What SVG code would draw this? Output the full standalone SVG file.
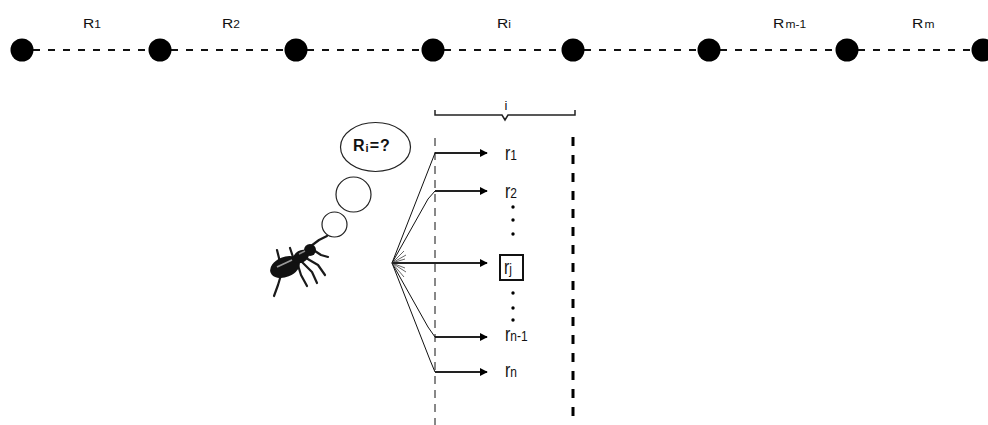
<svg xmlns="http://www.w3.org/2000/svg" width="988" height="425" viewBox="0 0 988 425">
  <style>
    .dot { fill: #000; }
    .track { stroke: #111; stroke-width: 2; stroke-dasharray: 7 8; fill: none; }
    .lbl { font-family: "Liberation Sans", Arial, sans-serif; fill: #111; }
    .big { font-size: 13px; }
    .sub { font-size: 10px; }
    .rl { font-size: 16px; }
    .rsub { font-size: 12px; }
    .fan { stroke: #111; stroke-width: 1; fill: none; }
    .whisk { stroke: #666; stroke-width: 1; fill: none; }
    .arr { stroke: #222; stroke-width: 2; fill: none; marker-end: url(#head); }
    .vthin { stroke: #111; stroke-width: 1; stroke-dasharray: 8 6; }
    .vthick { stroke: #000; stroke-width: 3; stroke-dasharray: 9 9; }
    .leg { stroke: #1a1a1a; stroke-width: 2.2; fill: none; stroke-linecap: round; stroke-linejoin: round; }
  </style>
  <defs>
    <marker id="head" viewBox="0 0 10 10" refX="9" refY="5" markerWidth="4" markerHeight="4" orient="auto" markerUnits="strokeWidth">
      <path d="M0,0 L10,5 L0,10 z" fill="#000"/>
    </marker>
  </defs>
  <rect width="988" height="425" fill="#fff"/>

  <!-- connectors: dashed track between the boundary points -->
  <g id="connectors">
    <line class="track" x1="33" y1="50" x2="149" y2="50"/>
    <line class="track" x1="171" y1="50" x2="285" y2="50"/>
    <line class="track" x1="307" y1="50" x2="422" y2="50"/>
    <line class="track" x1="444" y1="50" x2="562" y2="50"/>
    <line class="track" x1="584" y1="50" x2="698" y2="50"/>
    <line class="track" x1="720" y1="50" x2="836" y2="50"/>
    <line class="track" x1="858" y1="50" x2="972" y2="50"/>

    <!-- fan of candidate choices from the ant -->
    <polyline class="fan" points="392,263 435,153"/>
    <polyline class="fan" points="392,263 428,199 435,191"/>
    <polyline class="fan" points="392,263 428,327 435,337"/>
    <polyline class="fan" points="392,263 430,360 435,372"/>
    <line class="whisk" x1="392" y1="263" x2="404" y2="251"/>
    <line class="whisk" x1="392" y1="263" x2="406" y2="255"/>
    <line class="whisk" x1="392" y1="263" x2="405" y2="259"/>
    <line class="whisk" x1="392" y1="263" x2="405" y2="268"/>
    <line class="whisk" x1="392" y1="263" x2="406" y2="272"/>
    <line class="whisk" x1="392" y1="263" x2="404" y2="277"/>

    <line class="arr" x1="435" y1="153" x2="487" y2="153"/>
    <line class="arr" x1="435" y1="191" x2="487" y2="191"/>
    <line class="arr" x1="392" y1="263" x2="487" y2="263"/>
    <line class="arr" x1="435" y1="337" x2="487" y2="337"/>
    <line class="arr" x1="435" y1="372" x2="487" y2="372"/>
  </g>

  <!-- boundary points -->
  <g id="p0"><circle class="dot" cx="22" cy="50" r="11.5"/></g>
  <g id="p1"><circle class="dot" cx="160" cy="50" r="11.5"/></g>
  <g id="p2"><circle class="dot" cx="296" cy="50" r="11.5"/></g>
  <g id="p3"><circle class="dot" cx="433" cy="50" r="11.5"/></g>
  <g id="p4"><circle class="dot" cx="573" cy="50" r="11.5"/></g>
  <g id="p5"><circle class="dot" cx="709" cy="50" r="11.5"/></g>
  <g id="p6"><circle class="dot" cx="847" cy="50" r="11.5"/></g>
  <g id="p7"><circle class="dot" cx="983" cy="50" r="11.5"/></g>

  <!-- interval labels (slightly widened glyphs) -->
  <g id="labels" class="lbl">
    <text transform="translate(83 28) scale(1.2 1)" class="big">R<tspan class="sub">1</tspan></text>
    <text transform="translate(222 28) scale(1.2 1)" class="big">R<tspan class="sub">2</tspan></text>
    <text transform="translate(497 28) scale(1.2 1)" class="big">R<tspan class="sub">i</tspan></text>
    <text transform="translate(773 28) scale(1.2 1)" class="big">R<tspan class="sub" dx="1">m-1</tspan></text>
    <text transform="translate(912 28) scale(1.2 1)" class="big">R<tspan class="sub" dx="1">m</tspan></text>
  </g>

  <!-- brace over interval i -->
  <g id="brace">
    <path d="M435,110 V115 H502 L505,120 L508,115 H575 V110" fill="none" stroke="#222" stroke-width="1.5"/>
    <text x="506" y="110" class="lbl" font-size="13" text-anchor="middle">i</text>
  </g>

  <!-- interval boundaries (dashed verticals) -->
  <g id="bounds">
    <line class="vthin" x1="435" y1="138" x2="435" y2="425"/>
    <line class="vthick" x1="573" y1="137" x2="573" y2="425"/>
  </g>

  <!-- thought bubble -->
  <g id="thought">
    <ellipse cx="375.5" cy="147" rx="35" ry="24.5" fill="#fff" stroke="#222" stroke-width="1.2"/>
    <text x="353" y="151" class="lbl" font-size="16" font-weight="bold" letter-spacing="1">R<tspan font-size="11" dy="1">i</tspan><tspan dy="-1">=?</tspan></text>
    <circle cx="353.5" cy="194.5" r="17.5" fill="#fff" stroke="#222" stroke-width="1.2"/>
    <circle cx="334.5" cy="224.5" r="12.5" fill="#fff" stroke="#222" stroke-width="1.2"/>
  </g>

  <!-- the ant -->
  <g id="ant">
    <path class="leg" d="M311,246 L319,240 L327,236"/>
    <path class="leg" d="M315,251 L321,255 L328,257"/>
    <path class="leg" d="M297,262 L301,275 L307,286"/>
    <path class="leg" d="M302,262 L312,272 L317,283"/>
    <path class="leg" d="M306,258 L318,265 L325,275"/>
    <path class="leg" d="M281,275 L278,285 L274,296"/>
    <path class="leg" d="M280,262 L277,250"/>
    <path class="leg" d="M293,257 L290,248"/>
    <ellipse cx="285" cy="267" rx="15.5" ry="10" transform="rotate(-22 285 267)" fill="#111"/>
    <ellipse cx="301" cy="256.5" rx="8.5" ry="6" transform="rotate(-30 301 256.5)" fill="#111"/>
    <ellipse cx="310" cy="250" rx="6" ry="6" fill="#111"/>
    <path d="M277,267 L292,260" stroke="#999" stroke-width="1.8"/>
    <path d="M299,254 L305,251" stroke="#888" stroke-width="1.4"/>
  </g>

  <!-- candidate values (vertically stretched glyphs) -->
  <g id="c1" class="lbl"><text transform="translate(505 160) scale(1 1.25)" class="rl">r<tspan class="rsub">1</tspan></text></g>
  <g id="c2" class="lbl"><text transform="translate(505 198) scale(1 1.25)" class="rl">r<tspan class="rsub">2</tspan></text></g>
  <g id="dots-upper">
    <circle cx="513" cy="207" r="1.7" fill="#000"/>
    <circle cx="513" cy="220" r="1.7" fill="#000"/>
    <circle cx="513" cy="234" r="1.7" fill="#000"/>
  </g>
  <g id="cj">
    <rect x="500" y="255" width="23" height="25" fill="#fff" stroke="#111" stroke-width="2"/>
    <text transform="translate(504 274) scale(1 1.25)" class="lbl rl">r<tspan class="rsub">j</tspan></text>
  </g>
  <g id="dots-lower">
    <circle cx="513" cy="293" r="1.7" fill="#000"/>
    <circle cx="513" cy="308" r="1.7" fill="#000"/>
    <circle cx="513" cy="320" r="1.7" fill="#000"/>
  </g>
  <g id="cn1" class="lbl"><text transform="translate(505 341) scale(1 1.25)" class="rl">r<tspan class="rsub">n-1</tspan></text></g>
  <g id="cn" class="lbl"><text transform="translate(505 377) scale(1 1.25)" class="rl">r<tspan class="rsub">n</tspan></text></g>
</svg>
